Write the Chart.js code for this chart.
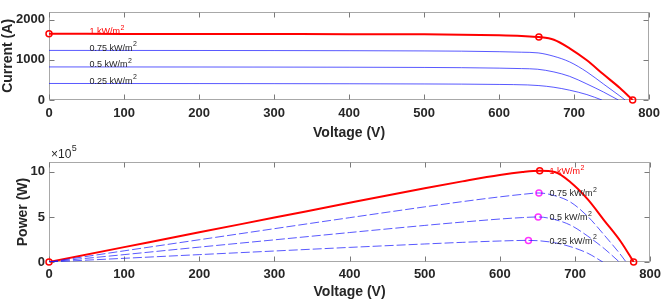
<!DOCTYPE html>
<html>
<head>
<meta charset="utf-8">
<script src="https://cdn.jsdelivr.net/npm/chart.js@4/dist/chart.umd.min.js"></script>
<style>
html, body { margin: 0; padding: 0; background: #fff; }
#wrap { position: relative; width: 666px; height: 302px; }
.pane { position: absolute; left: 0; width: 666px; }
</style>
</head>
<body>
<div id="wrap">
  <div class="pane" style="top:0;height:142px"><canvas id="ivChart"></canvas></div>
  <div class="pane" style="top:140px;height:162px"><canvas id="pvChart"></canvas></div>
</div>
<script>
// irradiance levels (kW/m2), one curve each
const irradianceLabels = ['1', '0.75', '0.5', '0.25'];

// 1 kW/m2
const voltage1000 = [0, 100, 200, 300, 400, 500, 550, 600, 630, 653, 673, 694, 717, 739, 761, 778];
const current1000 = [1650, 1649, 1648, 1646, 1643, 1637, 1630, 1615, 1597, 1571, 1504, 1290, 990, 640, 300, 0];
const power1000 = [0, 1.65, 3.3, 4.93, 6.57, 8.18, 8.95, 9.66, 9.98, 10.12, 9.98, 8.85, 6.95, 4.6, 2.25, 0];

// 0.75 kW/m2
const voltage750 = [0, 100, 200, 300, 400, 500, 550, 600, 630, 652, 673, 694, 717, 739, 761, 768];
const current750 = [1237, 1236, 1235, 1233, 1230, 1224, 1218, 1205, 1192, 1175, 1090, 950, 700, 400, 100, 0];
const power750 = [0, 1.24, 2.47, 3.7, 4.92, 6.12, 6.7, 7.23, 7.51, 7.66, 7.36, 6.65, 5.05, 2.98, 0.78, 0];

// 0.5 kW/m2
const voltage500 = [0, 100, 200, 300, 400, 500, 550, 600, 630, 651, 673, 694, 717, 739, 759];
const current500 = [825, 824, 823, 821, 818, 812, 806, 795, 783, 768, 700, 590, 400, 200, 0];
const power500 = [0, 0.82, 1.65, 2.46, 3.27, 4.06, 4.43, 4.77, 4.93, 5.0, 4.71, 4.09, 2.87, 1.48, 0];

// 0.25 kW/m2
const voltage250 = [0, 100, 200, 300, 400, 500, 550, 600, 638, 653, 673, 694, 717, 737];
const current250 = [412, 411, 410, 408, 405, 400, 396, 388, 376, 360, 318, 245, 135, 0];
const power250 = [0, 0.41, 0.82, 1.22, 1.62, 2.0, 2.18, 2.33, 2.4, 2.35, 2.14, 1.7, 0.97, 0];

// maximum power points and open-circuit voltages
const mppVoltage = [653, 652, 651, 638];
const mppCurrent = [1571, 1175, 768, 376];
const mppPower = [10.12, 7.66, 5.0, 2.4];
const vocVoltage = [778, 768, 759, 737];
const iscCurrent = [1650, 1237, 825, 412];

const voltageTicks = [0, 100, 200, 300, 400, 500, 600, 700, 800];
const currentTicks = [0, 1000, 2000];
const powerTicks = [0, 5, 10];

// where the curve names sit (voltage of text start)
const ivLabelVoltage = 54;
const pvLabelVoltage = 666;

const RED = '#ff0000';
const BLUE = 'rgba(25, 25, 255, 0.72)';
const MAGENTA = '#ff33ff';
const TEXT = '#262626';
const FONT = '"Liberation Sans", Arial, sans-serif';

const toPoints = (xs, ys) => xs.map((v, i) => ({ x: v, y: ys[i] }));

function curve(xs, ys, color, width, dash) {
    return {
        data: toPoints(xs, ys),
        borderColor: color,
        borderWidth: width,
        borderDash: dash || [],
        pointRadius: 0,
        cubicInterpolationMode: 'monotone',
        fill: false,
    };
}

function markers(xs, ys, color) {
    return {
        data: toPoints(xs, ys),
        showLine: false,
        pointRadius: 3,
        pointBorderWidth: 1.5,
        pointBorderColor: color,
        pointBackgroundColor: 'rgba(0,0,0,0)',
        clip: false,
    };
}

// MATLAB-like box with inward tick marks
const frameTicks = {
    id: 'frameTicks',
    beforeDatasetsDraw(chart) {
        const { ctx, chartArea, scales } = chart;
        const l = Math.round(chartArea.left) + 0.5;
        const r = Math.round(chartArea.right) - 0.5;
        const t = Math.round(chartArea.top) + 0.5;
        const b = Math.round(chartArea.bottom) - 0.5;
        ctx.save();
        ctx.strokeStyle = '#a8a8a8';
        ctx.lineWidth = 1;
        ctx.strokeRect(l, t, r - l, b - t);
        ctx.strokeStyle = '#7a7a7a';
        ctx.beginPath();
        scales.x.ticks.forEach(tk => {
            const px = Math.round(scales.x.getPixelForValue(tk.value)) + 0.5;
            ctx.moveTo(px, b); ctx.lineTo(px, b - 5);
            ctx.moveTo(px, t); ctx.lineTo(px, t + 5);
        });
        scales.y.ticks.forEach(tk => {
            const py = Math.round(scales.y.getPixelForValue(tk.value)) + 0.5;
            ctx.moveTo(l, py); ctx.lineTo(l + 5, py);
            ctx.moveTo(r, py); ctx.lineTo(r - 5, py);
        });
        ctx.stroke();
        ctx.restore();
    }
};

function drawUnitLabel(ctx, x, y, name, color) {
    ctx.fillStyle = color;
    ctx.font = '9px ' + FONT;
    ctx.textBaseline = 'middle';
    ctx.textAlign = 'left';
    const main = name + ' kW/m';
    ctx.fillText(main, x, y);
    const w = ctx.measureText(main).width;
    ctx.font = '7px ' + FONT;
    ctx.fillText('2', x + w + 0.5, y - 4);
}

const ivLabels = {
    id: 'ivLabels',
    afterDatasetsDraw(chart) {
        const { ctx, scales: { x, y } } = chart;
        ctx.save();
        irradianceLabels.forEach((name, i) => {
            drawUnitLabel(ctx, x.getPixelForValue(ivLabelVoltage), y.getPixelForValue(iscCurrent[i]) - 2,
                name, i === 0 ? RED : TEXT);
        });
        ctx.restore();
    }
};

const pvLabels = {
    id: 'pvLabels',
    afterDatasetsDraw(chart) {
        const { ctx, chartArea, scales: { x, y } } = chart;
        ctx.save();
        irradianceLabels.forEach((name, i) => {
            drawUnitLabel(ctx, x.getPixelForValue(pvLabelVoltage), y.getPixelForValue(mppPower[i]) + 1,
                name, i === 0 ? RED : TEXT);
        });
        // exponent note above the y axis
        ctx.fillStyle = TEXT;
        ctx.textBaseline = 'middle';
        ctx.font = '12px ' + FONT;
        ctx.fillText('\u00d710', chartArea.left + 2, chartArea.top - 7);
        const w = ctx.measureText('\u00d710').width;
        ctx.font = '9px ' + FONT;
        ctx.fillText('5', chartArea.left + 2 + w + 0.5, chartArea.top - 13);
        ctx.restore();
    }
};

function xScale(tickPad, titlePad, height) {
    return {
        type: 'linear',
        min: 0,
        max: 800,
        afterBuildTicks: s => { s.ticks = voltageTicks.map(v => ({ value: v })); },
        afterFit: s => { s.height = height; },
        grid: { display: false, drawTicks: false },
        border: { display: false },
        ticks: {
            padding: tickPad, color: TEXT, maxRotation: 0,
            font: { family: FONT, size: 13, weight: 'bold' },
            callback: v => String(v),
        },
        title: {
            display: true, text: 'Voltage (V)', color: TEXT,
            font: { family: FONT, size: 14, weight: 'bold' }, padding: { top: 0, bottom: titlePad }
        },
    };
}

function yScale(max, ticks, title, titlePad) {
    return {
        type: 'linear',
        min: 0,
        max: max,
        afterBuildTicks: s => { s.ticks = ticks.map(v => ({ value: v })); },
        afterFit: s => { s.width = 49; },
        grid: { display: false, drawTicks: false },
        border: { display: false },
        ticks: {
            padding: 4, color: TEXT,
            font: { family: FONT, size: 13, weight: 'bold' },
            callback: v => String(v),
        },
        title: {
            display: true, text: title, color: TEXT,
            font: { family: FONT, size: 14, weight: 'bold' }, padding: { top: titlePad, bottom: 0 }
        },
    };
}

const common = {
    responsive: true,
    maintainAspectRatio: false,
    animation: false,
    plugins: { legend: { display: false }, tooltip: { enabled: false } },
};

new Chart(document.getElementById('ivChart'), {
    type: 'line',
    data: {
        datasets: [
            curve(voltage250, current250, BLUE, 1),
            curve(voltage500, current500, BLUE, 1),
            curve(voltage750, current750, BLUE, 1),
            curve(voltage1000, current1000, RED, 2),
            markers([0, mppVoltage[0], vocVoltage[0]], [iscCurrent[0], mppCurrent[0], 0], RED),
        ],
    },
    options: {
        ...common,
        layout: { padding: { top: 2, right: 13, left: 0, bottom: 0 } },
        scales: {
            x: xScale(6, 0, 42),
            y: yScale(2200, currentTicks, 'Current (A)', 0),
        },
    },
    plugins: [frameTicks, ivLabels],
});

new Chart(document.getElementById('pvChart'), {
    type: 'line',
    data: {
        datasets: [
            curve(voltage250, power250, BLUE, 1, [9, 3]),
            curve(voltage500, power500, BLUE, 1, [9, 3]),
            curve(voltage750, power750, BLUE, 1, [9, 3]),
            curve(voltage1000, power1000, RED, 2),
            markers(mppVoltage.slice(1), mppPower.slice(1), MAGENTA),
            markers([0, mppVoltage[0], vocVoltage[0]], [0, mppPower[0], 0], RED),
        ],
    },
    options: {
        ...common,
        layout: { padding: { top: 22, right: 13, left: 0, bottom: 0 } },
        scales: {
            x: xScale(5, 1, 40),
            y: yScale(11.1, powerTicks, 'Power (W)', 15),
        },
    },
    plugins: [frameTicks, pvLabels],
});
</script>
</body>
</html>
